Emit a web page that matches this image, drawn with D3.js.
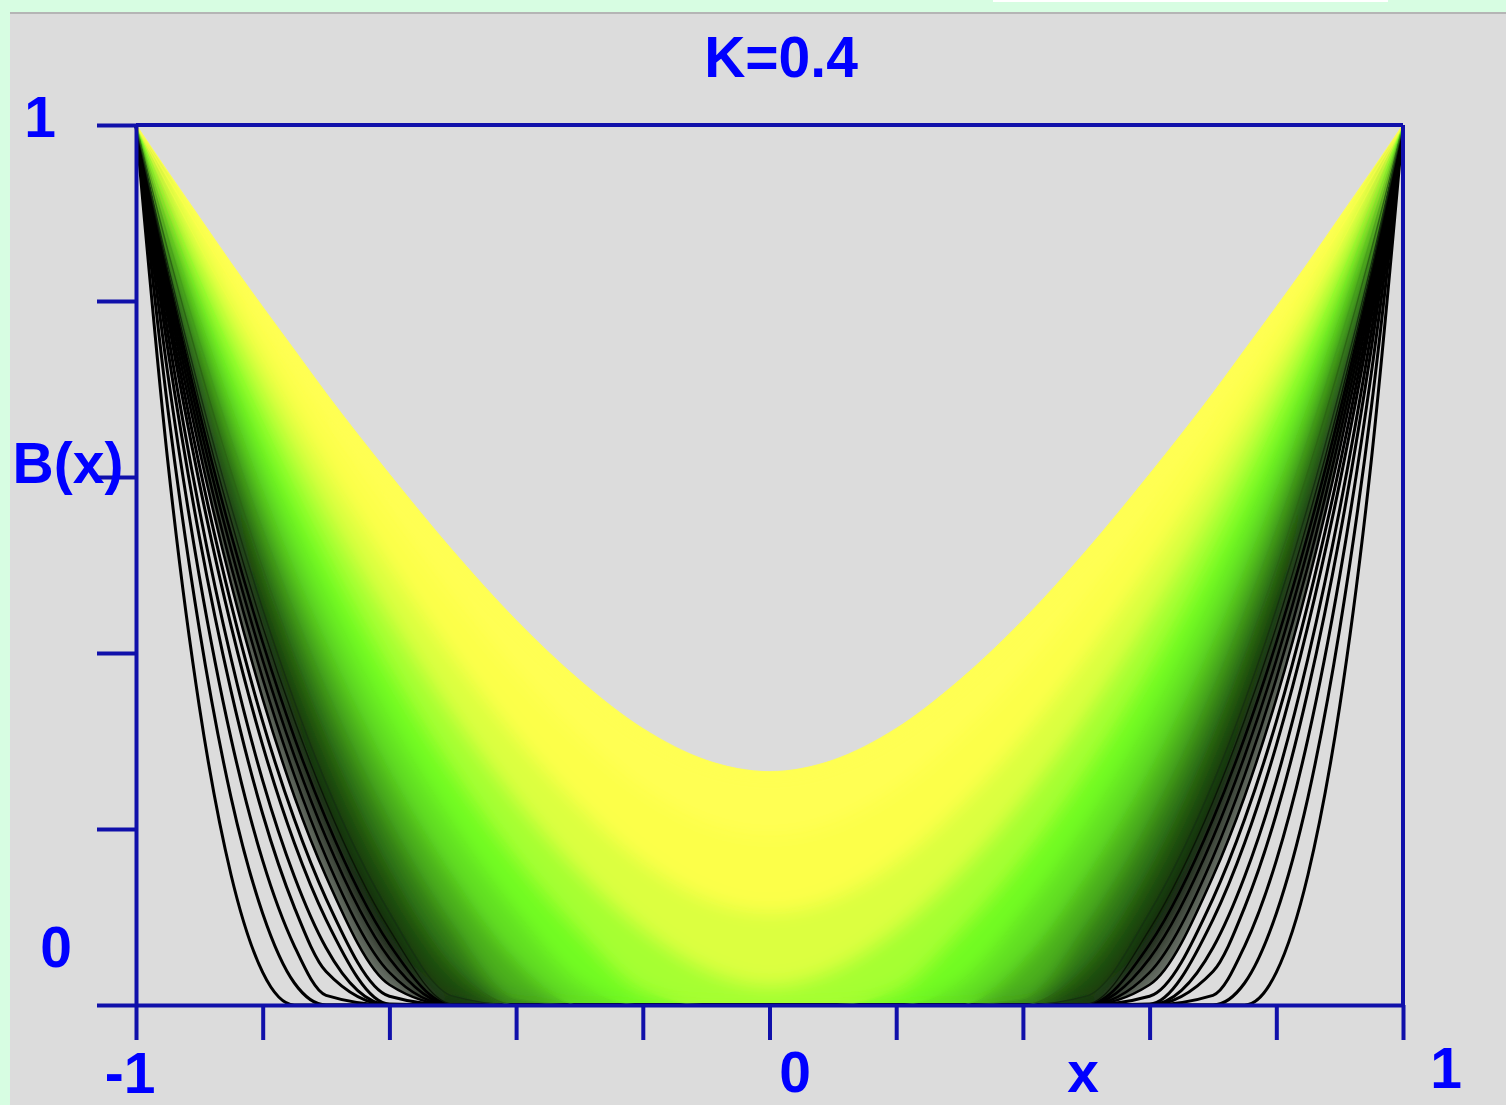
<!DOCTYPE html>
<html>
<head>
<meta charset="utf-8">
<script src="https://cdnjs.cloudflare.com/ajax/libs/d3/7.8.5/d3.min.js"></script>
<style>
  html, body { margin: 0; padding: 0; background: #d7fde2; }
  svg { display: block; }
</style>
</head>
<body>
<div id="chart"></div>
<script>
// right half only, the plot is mirrored about x = 0
var xs = [0, 0.1, 0.2, 0.3, 0.4, 0.5, 0.6, 0.7, 0.75, 0.8, 0.85, 0.9, 0.95, 1];

// outer curves, separate black lines
var lineCurves = [
  [0, 0, 0, 0, 0, 0, 0, 0, 0, 0.037, 0.148, 0.339, 0.619, 1],
  [0, 0, 0, 0, 0, 0, 0, 0, 0.025, 0.104, 0.236, 0.427, 0.679, 1],
  [0, 0, 0, 0, 0, 0, 0, 0.011, 0.067, 0.164, 0.303, 0.487, 0.718, 1],
  [0, 0, 0, 0, 0, 0, 0, 0.038, 0.111, 0.217, 0.357, 0.532, 0.746, 1],
  [0, 0, 0, 0, 0, 0, 0, 0.065, 0.146, 0.255, 0.394, 0.563, 0.765, 1],
  [0, 0, 0, 0, 0, 0, 0.001, 0.097, 0.184, 0.295, 0.431, 0.593, 0.782, 1],
  [0, 0, 0, 0, 0, 0, 0.010, 0.121, 0.211, 0.322, 0.456, 0.613, 0.794, 1]
];

// inner curves, dense enough that the gaps between them read as colour
var bandCurves = [
  [0, 0, 0, 0, 0, 0, 0.023, 0.146, 0.237, 0.348, 0.479, 0.631, 0.804, 1],
  [0, 0, 0, 0, 0, 0, 0.037, 0.168, 0.261, 0.371, 0.499, 0.647, 0.813, 1],
  [0, 0, 0, 0, 0, 0, 0.053, 0.190, 0.283, 0.392, 0.518, 0.661, 0.821, 1],
  [0, 0, 0, 0, 0, 0, 0.069, 0.211, 0.304, 0.412, 0.535, 0.674, 0.829, 1],
  [0, 0, 0, 0, 0, 0.001, 0.086, 0.231, 0.324, 0.430, 0.551, 0.686, 0.835, 1],
  [0, 0, 0, 0, 0, 0.010, 0.105, 0.252, 0.345, 0.450, 0.567, 0.698, 0.842, 1],
  [0, 0, 0, 0, 0, 0.045, 0.155, 0.306, 0.396, 0.496, 0.606, 0.727, 0.858, 1],
  [0, 0, 0, 0, 0.007, 0.091, 0.210, 0.359, 0.446, 0.540, 0.643, 0.754, 0.873, 1],
  [0, 0, 0, 0, 0.050, 0.146, 0.266, 0.412, 0.494, 0.583, 0.678, 0.779, 0.886, 1],
  [0, 0, 0, 0.025, 0.105, 0.205, 0.324, 0.464, 0.541, 0.623, 0.710, 0.802, 0.899, 1],
  [0, 0, 0.017, 0.084, 0.167, 0.267, 0.383, 0.515, 0.586, 0.662, 0.741, 0.824, 0.910, 1],
  [0.023, 0.041, 0.087, 0.152, 0.234, 0.331, 0.442, 0.564, 0.630, 0.699, 0.770, 0.844, 0.921, 1],
  [0.106, 0.121, 0.163, 0.226, 0.305, 0.397, 0.500, 0.612, 0.672, 0.734, 0.797, 0.863, 0.931, 1],
  [0.192, 0.206, 0.245, 0.304, 0.377, 0.463, 0.557, 0.659, 0.712, 0.767, 0.823, 0.881, 0.940, 1],
  [0.265, 0.278, 0.314, 0.369, 0.437, 0.516, 0.603, 0.695, 0.744, 0.793, 0.843, 0.895, 0.947, 1]
];

var bandFill = ['#6c736a', '#3a4436', '#1c2616', '#0e1a08', '#12300a', '#1f4c10', '#337a16',
  '#4bb01c', '#62e020', '#72fc24', '#a6ff30', '#dcff40', '#fcff48', '#ffff52'];
var bandStroke = ['#000', '#000', '#000', '#000', '#0a1606', '#163210', '#2c6614', '#40961a',
  '#58cc1e', '#6cf022', '#8cff2a', '#c4ff38', '#f0ff44', '#ffff4c', '#ffff55'];

var xTicks = [-1, -0.8, -0.6, -0.4, -0.2, 0, 0.2, 0.4, 0.6, 0.8, 1];
var yTicks = [0, 0.2, 0.4, 0.6, 0.8, 1];

var width = 1506;
var height = 1105;
var axisColor = '#1010aa';
var textColor = '#0000ff';

var svg = d3.select('#chart')
  .append('svg')
  .attr('width', width)
  .attr('height', height)
  .attr('font-family', '"Liberation Sans", Arial, sans-serif')
  .attr('font-weight', 'bold')
  .attr('font-size', 57);

// page frame
svg.append('rect').attr('x', 10).attr('y', 14).attr('width', width - 10).attr('height', height - 14).attr('fill', '#dcdcdc');
svg.append('rect').attr('x', 10).attr('y', 12).attr('width', width - 10).attr('height', 2).attr('fill', '#b5b5b5');
svg.append('rect').attr('x', 993).attr('y', 0).attr('width', 395).attr('height', 2).attr('fill', '#fff');

var x = d3.scaleLinear().domain([-1, 1]).range([136, 1403]);
var y = d3.scaleLinear().domain([0, 1]).range([1005, 125]);

function mirror(vals) {
  var pts = xs.map(function(v, i) { return { x: v, y: vals[i] }; });
  var left = pts.slice(1).reverse().map(function(p) { return { x: -p.x, y: p.y }; });
  return left.concat(pts);
}

function between(a, b) {
  var lo = mirror(a);
  var hi = mirror(b);
  return lo.map(function(p, j) { return { x: p.x, lo: p.y, hi: hi[j].y }; });
}

var line = d3.line()
  .x(function(d) { return x(d.x); })
  .y(function(d) { return y(d.y); })
  .curve(d3.curveMonotoneX);

var area = d3.area()
  .x(function(d) { return x(d.x); })
  .y0(function(d) { return y(d.lo); })
  .y1(function(d) { return y(d.hi); })
  .curve(d3.curveMonotoneX);

var bands = d3.range(bandCurves.length - 1).map(function(i) {
  return between(bandCurves[i], bandCurves[i + 1]);
});

var defs = svg.append('defs');
defs.append('filter')
    .attr('id', 'soft')
    .attr('x', '-5%').attr('y', '-5%').attr('width', '110%').attr('height', '110%')
  .append('feGaussianBlur')
    .attr('stdDeviation', 9);
defs.append('clipPath')
    .attr('id', 'fan')
  .append('path')
    .attr('d', area(between(bandCurves[0], bandCurves[bandCurves.length - 1])));

var plot = svg.append('g');

function drawBands(g) {
  g.selectAll('path.band')
    .data(bands)
    .enter().append('path')
      .attr('class', 'band')
      .attr('d', area)
      .attr('fill', function(d, i) { return bandFill[i]; })
      .attr('stroke', function(d, i) { return bandFill[i]; })
      .attr('stroke-width', 1);
}

// sharp copy underneath, blurred copy on top to smooth the colour steps
drawBands(plot.append('g'));
drawBands(plot.append('g')
  .attr('clip-path', 'url(#fan)')
  .append('g')
  .attr('filter', 'url(#soft)'));

plot.selectAll('path.outer')
  .data(lineCurves)
  .enter().append('path')
    .attr('class', 'outer')
    .attr('d', function(d) { return line(mirror(d)); })
    .attr('fill', 'none')
    .attr('stroke', '#000')
    .attr('stroke-width', 3);

plot.selectAll('path.inner')
  .data(bandCurves)
  .enter().append('path')
    .attr('class', 'inner')
    .attr('d', function(d) { return line(mirror(d)); })
    .attr('fill', 'none')
    .attr('stroke', function(d, i) { return bandStroke[i]; })
    .attr('stroke-opacity', function(d, i) { return i < 7 ? 1 : 0.5; })
    .attr('stroke-width', function(d, i) { return i < 4 ? 2.6 : 1.4; });

// axes
svg.append('g')
  .attr('transform', 'translate(0,' + y(0) + ')')
  .call(d3.axisBottom(x).tickValues(xTicks).tickSize(35).tickSizeOuter(0).tickFormat(''));

svg.append('g')
  .attr('transform', 'translate(' + x(-1) + ',0)')
  .call(d3.axisLeft(y).tickValues(yTicks).tickSize(39).tickSizeOuter(0).tickFormat(''));

svg.selectAll('.domain, .tick line')
  .attr('stroke', axisColor)
  .attr('stroke-width', 4);

svg.append('line')
  .attr('x1', x(-1)).attr('x2', x(1))
  .attr('y1', y(1)).attr('y2', y(1))
  .attr('stroke', axisColor).attr('stroke-width', 4);

svg.append('line')
  .attr('x1', x(1)).attr('x2', x(1))
  .attr('y1', y(1)).attr('y2', y(0))
  .attr('stroke', axisColor).attr('stroke-width', 4);

// labels
var labels = [
  { t: 'K=0.4', x: 781, y: 77 },
  { t: '1', x: 40, y: 137 },
  { t: '0', x: 56, y: 967 },
  { t: 'B(x)', x: 68, y: 483 },
  { t: '-1', x: 130, y: 1093 },
  { t: '0', x: 795, y: 1092 },
  { t: 'x', x: 1083, y: 1092 },
  { t: '1', x: 1446, y: 1088 }
];

svg.selectAll('text.label')
  .data(labels)
  .enter().append('text')
    .attr('class', 'label')
    .attr('x', function(d) { return d.x; })
    .attr('y', function(d) { return d.y; })
    .attr('text-anchor', 'middle')
    .attr('fill', textColor)
    .text(function(d) { return d.t; });
</script>
</body>
</html>
